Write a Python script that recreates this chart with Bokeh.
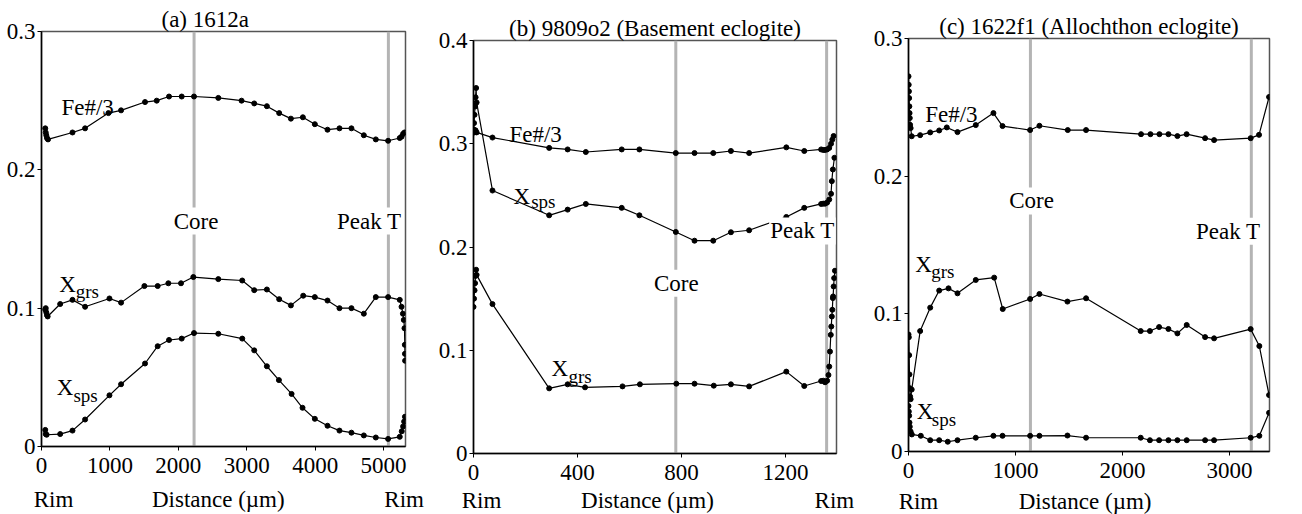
from bokeh.plotting import figure
from bokeh.models import Range1d, FixedTicker, Span, Label, LinearAxis, Spacer
from bokeh.layouts import row, column
from bokeh.embed import file_html
from bokeh.resources import INLINE

FONT = "Liberation Serif"

# ---------------- data: panel (a) 1612a ----------------
a_fe_d = [55, 62, 70, 80, 95, 453, 637, 978, 1163, 1513, 1684, 1864, 2049, 2229, 2584, 2924, 3109, 3294, 3474,
          3645, 3820, 3995, 4180, 4355, 4530, 4711, 4886, 5066, 5236, 5262, 5285, 5305]
a_fe = [0.230, 0.227, 0.225, 0.223, 0.222, 0.227, 0.230, 0.241, 0.243, 0.249, 0.250, 0.253, 0.253, 0.253, 0.252,
        0.250, 0.248, 0.246, 0.241, 0.237, 0.238, 0.233, 0.229, 0.230, 0.230, 0.225, 0.222, 0.221, 0.223, 0.224,
        0.226, 0.227]
a_grs_d = [55, 62, 70, 80, 90, 273, 453, 637, 993, 1163, 1504, 1698, 1854, 2039, 2219, 2584, 2934, 3109, 3294,
           3474, 3645, 3825, 3995, 4180, 4355, 4530, 4711, 4886, 5066, 5236, 5262, 5282, 5295, 5305, 5310, 5312,
           5314]
a_grs = [0.099, 0.100, 0.097, 0.095, 0.094, 0.103, 0.106, 0.101, 0.107, 0.104, 0.116, 0.116, 0.118, 0.118, 0.1225,
         0.121, 0.120, 0.113, 0.1135, 0.1065, 0.102, 0.109, 0.108, 0.1055, 0.100, 0.100, 0.096, 0.108, 0.108,
         0.106, 0.101, 0.096, 0.0915, 0.0855, 0.0735, 0.067, 0.062]
a_sps_d = [55, 62, 75, 273, 453, 637, 993, 1163, 1513, 1698, 1864, 2049, 2229, 2584, 2934, 3109, 3294, 3470, 3655,
           3815, 3995, 4180, 4355, 4530, 4711, 4886, 5066, 5236, 5265, 5285, 5300, 5312]
a_sps = [0.012, 0.009, 0.0085, 0.009, 0.0115, 0.0195, 0.037, 0.045, 0.060, 0.0725, 0.077, 0.078, 0.082, 0.0815,
         0.078, 0.0695, 0.058, 0.048, 0.038, 0.028, 0.020, 0.015, 0.0115, 0.010, 0.008, 0.0065, 0.0055, 0.007,
         0.011, 0.0145, 0.018, 0.0215]

# ---------------- data: panel (b) 9809o2 ----------------
b_fe_d = [0, 4, 8, 12, 73, 291, 362, 432, 570, 638, 778, 850, 922, 990, 1060, 1203, 1272, 1337, 1345, 1352, 1360,
          1368, 1375, 1380, 1385]
b_fe = [0.312, 0.311, 0.313, 0.311, 0.306, 0.296, 0.2945, 0.292, 0.2945, 0.2945, 0.291, 0.291, 0.291, 0.293,
        0.291, 0.2965, 0.293, 0.2945, 0.294, 0.294, 0.2945, 0.296, 0.300, 0.304, 0.3075]
b_sps_d = [0, 2, 4, 6, 8, 10, 12, 73, 291, 362, 432, 570, 638, 778, 850, 922, 990, 1060, 1203, 1272, 1337, 1345,
           1352, 1360, 1368, 1375, 1378, 1382, 1388]
b_sps = [0.314, 0.320, 0.328, 0.336, 0.345, 0.354, 0.340, 0.2547, 0.2307, 0.2362, 0.2417, 0.2379, 0.2307, 0.2146,
         0.2061, 0.2061, 0.2143, 0.2162, 0.2291, 0.2379, 0.2417, 0.242, 0.242, 0.243, 0.246, 0.2515, 0.2638,
         0.2751, 0.2864]
b_grs_d = [0, 2, 4, 6, 8, 10, 12, 73, 291, 362, 429, 573, 640, 780, 850, 924, 990, 1060, 1203, 1272, 1337, 1345,
           1352, 1360, 1365, 1368, 1371, 1374, 1376, 1378, 1380, 1382, 1383, 1385, 1387, 1390]
b_grs = [0.142, 0.150, 0.158, 0.165, 0.172, 0.178, 0.173, 0.1447, 0.0631, 0.067, 0.0641, 0.065, 0.067, 0.0676,
         0.0676, 0.0657, 0.067, 0.065, 0.0793, 0.0654, 0.0702, 0.0705, 0.069, 0.0705, 0.076, 0.0842, 0.0987,
         0.1149, 0.123, 0.1327, 0.1392, 0.1505, 0.1521, 0.1618, 0.1699, 0.177]

# ---------------- data: panel (c) 1622f1 ----------------
c_fe_d = [0, 2, 4, 6, 8, 10, 12, 15, 20, 30, 109, 203, 287, 358, 458, 629, 794, 879, 1137, 1224, 1489, 1660, 2174,
          2262, 2346, 2430, 2514, 2600, 2773, 2857, 3199, 3277, 3371]
c_fe = [0.2725, 0.2664, 0.2616, 0.2567, 0.2507, 0.2458, 0.2422, 0.2373, 0.2349, 0.229, 0.2298, 0.2318, 0.2332,
        0.2354, 0.232, 0.2371, 0.2458, 0.2364, 0.2335, 0.2366, 0.2335, 0.2335, 0.2305, 0.2305, 0.2305, 0.2305,
        0.2291, 0.2305, 0.2276, 0.2262, 0.2276, 0.230, 0.2575]
c_grs_d = [0, 3, 6, 9, 12, 15, 20, 30, 109, 203, 287, 374, 458, 629, 801, 881, 1137, 1224, 1486, 1660, 2171, 2257,
           2343, 2430, 2514, 2601, 2773, 2857, 3199, 3280, 3371]
c_grs = [0.085, 0.083, 0.070, 0.056, 0.046, 0.040, 0.038, 0.045, 0.0875, 0.1045, 0.1169, 0.1185, 0.1149, 0.1246,
         0.1263, 0.1035, 0.1108, 0.1144, 0.1089, 0.1113, 0.0875, 0.0875, 0.0904, 0.089, 0.0858, 0.0919, 0.0831,
         0.0822, 0.0889, 0.0766, 0.041]
c_sps_d = [0, 3, 6, 9, 12, 20, 31, 115, 203, 287, 367, 458, 629, 794, 879, 1137, 1224, 1486, 1660, 2171, 2257,
           2343, 2430, 2514, 2601, 2773, 2857, 3199, 3280, 3371]
c_sps = [0.033, 0.029, 0.026, 0.021, 0.018, 0.0145, 0.0124, 0.0114, 0.0082, 0.0082, 0.0071, 0.0082, 0.010, 0.0114,
         0.0114, 0.0114, 0.0114, 0.0116, 0.010, 0.010, 0.0082, 0.0082, 0.0082, 0.0082, 0.0082, 0.0082, 0.0082,
         0.010, 0.0114, 0.0281]

titles = ["(a) 1612a", "(b) 9809o2 (Basement eclogite)", "(c) 1622f1 (Allochthon eclogite)"]
x_maxes = [5320, 1396, 3375]
y_maxes = [0.3, 0.4, 0.3]
x_ticks = [[0, 1000, 2000, 3000, 4000, 5000], [0, 400, 800, 1200], [0, 1000, 2000, 3000]]
y_ticks = [[0, 0.1, 0.2, 0.3], [0, 0.1, 0.2, 0.3, 0.4], [0, 0.1, 0.2, 0.3]]
core_pos = [2230, 778, 1140]
peak_pos = [5070, 1358, 3205]
# positions of the "Rim" / "Distance (µm)" captions under each axis
caption_pos = [[175, 2584, 5300], [31, 669, 1388], [93, 1651, 3402]]
caption_text = ["Rim", "Distance (µm)", "Rim"]


def make_panel(title, xmax, ymax, xt, yt, series, core, peak, fw, fh, bl, br, bt,
               title_align, title_offset, notes, caps, cap_standoff):
    p = figure(frame_width=fw, frame_height=fh, min_border_left=bl, min_border_right=br,
               min_border_top=bt, min_border_bottom=10,
               x_range=Range1d(0, xmax), y_range=Range1d(0, ymax),
               output_backend="svg", toolbar_location=None, title=title)
    p.title.text_font = FONT
    p.title.text_font_size = "23px"
    p.title.text_font_style = "normal"
    p.title.text_color = "black"
    p.title.align = title_align
    p.title.offset = title_offset
    p.title.standoff = 0
    p.grid.grid_line_color = None
    p.outline_line_color = "#555555"
    p.outline_line_width = 1.5
    p.background_fill_color = "white"
    p.border_fill_color = "white"
    for ax in (p.xaxis[0], p.yaxis[0]):
        ax.axis_line_color = "black"
        ax.axis_line_width = 1.5
        ax.major_tick_line_color = "black"
        ax.major_tick_out = 4
        ax.major_tick_in = 0
        ax.minor_tick_line_color = None
        ax.major_label_text_font = FONT
        ax.major_label_text_font_size = "23px"
        ax.major_label_text_color = "black"
    p.xaxis.ticker = FixedTicker(ticks=xt)
    p.yaxis.ticker = FixedTicker(ticks=yt)
    p.yaxis.major_label_overrides = {0: "0"}
    p.xaxis.major_label_standoff = 7
    p.yaxis.major_label_standoff = 2

    cap_axis = LinearAxis(ticker=FixedTicker(ticks=caps),
                          major_label_overrides={c: t for c, t in zip(caps, caption_text)},
                          axis_line_color=None, major_tick_line_color=None, minor_tick_line_color=None,
                          major_tick_out=0, major_tick_in=0, major_label_standoff=cap_standoff,
                          major_label_text_font=FONT, major_label_text_font_size="23px",
                          major_label_text_color="black")
    p.add_layout(cap_axis, "below")

    for loc in (core, peak):
        p.add_layout(Span(location=loc, dimension="height", line_color="#b4b4b4", line_width=3,
                          level="underlay"))
    for d, v in series:
        p.line(d, v, line_color="black", line_width=1.2)
        p.scatter(d, v, size=5, fill_color="black", line_color="black")

    for (tx, x, y, size, align, bg) in notes:
        lab = Label(x=x, y=y, text=tx, text_font=FONT, text_font_size=size, text_align=align,
                    text_baseline="middle" if bg else "alphabetic", text_color="black")
        if bg:
            lab.background_fill_color = "white"
            lab.background_fill_alpha = 1.0
            lab.padding = 1
        p.add_layout(lab)
    return p


pa = make_panel(titles[0], x_maxes[0], y_maxes[0], x_ticks[0], y_ticks[0],
                [(a_fe_d, a_fe), (a_grs_d, a_grs), (a_sps_d, a_sps)], core_pos[0], peak_pos[0],
                364, 415, 41, 23, 31, "left", 120,
                [("Core", 2260, 0.163, "23px", "center", True),
                 ("Peak T", 4790, 0.163, "23px", "center", True),
                 ("Fe#/3", 292, 0.245, "23px", "left", False),
                 ("X", 258, 0.117, "23px", "left", False),
                 ("grs", 501, 0.112, "19px", "left", False),
                 ("X", 224, 0.043, "23px", "left", False),
                 ("sps", 467, 0.037, "19px", "left", False)],
                caption_pos[0], 11)

pb = make_panel(titles[1], x_maxes[1], y_maxes[1], x_ticks[1], y_ticks[1],
                [(b_fe_d, b_fe), (b_sps_d, b_sps), (b_grs_d, b_grs)], core_pos[1], peak_pos[1],
                363, 413, 45, 22, 31, "center", 0,
                [("Core", 780, 0.165, "23px", "center", True),
                 ("Peak T", 1265, 0.2155, "23px", "center", True),
                 ("Fe#/3", 138, 0.309, "23px", "left", False),
                 ("X", 154, 0.2492, "23px", "left", False),
                 ("sps", 222, 0.2444, "19px", "left", False),
                 ("X", 300, 0.0825, "23px", "left", False),
                 ("grs", 365, 0.0744, "19px", "left", False)],
                caption_pos[1], 5)

pc = make_panel(titles[2], x_maxes[2], y_maxes[2], x_ticks[2], y_ticks[2],
                [(c_fe_d, c_fe), (c_grs_d, c_grs), (c_sps_d, c_sps)], core_pos[2], peak_pos[2],
                361, 413, 50, 23, 31, "center", 0,
                [("Core", 1150, 0.182, "23px", "center", True),
                 ("Peak T", 2990, 0.16, "23px", "center", True),
                 ("Fe#/3", 156, 0.2446, "23px", "left", False),
                 ("X", 63, 0.1355, "23px", "left", False),
                 ("grs", 212, 0.1307, "19px", "left", False),
                 ("X", 78, 0.0289, "23px", "left", False),
                 ("sps", 218, 0.0235, "19px", "left", False)],
                caption_pos[2], 8)

layout = row(column(pa), column(Spacer(width=430, height=9), pb), column(Spacer(width=434, height=7), pc))
open("out.html", "w").write(file_html(layout, INLINE))
